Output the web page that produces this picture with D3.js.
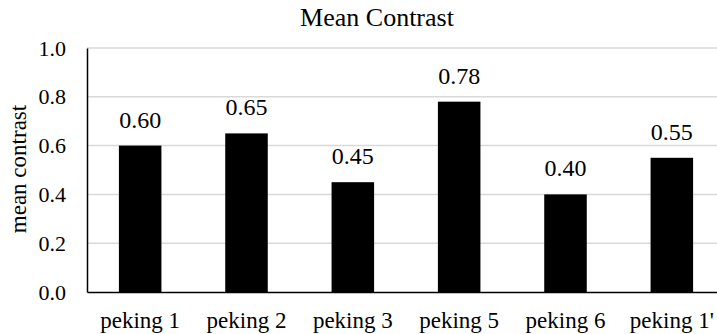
<!DOCTYPE html>
<html>
<head>
<meta charset="utf-8">
<script src="https://cdn.jsdelivr.net/npm/d3@7"></script>
<style>
  body { margin: 0; background: #fff; }
  svg { display: block; }
</style>
</head>
<body>
<svg id="chart" width="717" height="334"></svg>
<script>
const categories = ["peking 1", "peking 2", "peking 3", "peking 5", "peking 6", "peking 1'"];
const meanContrast = [0.60, 0.65, 0.45, 0.78, 0.40, 0.55];
const yTicks = [0.0, 0.2, 0.4, 0.6, 0.8, 1.0];

const serif = '"Liberation Serif", "Times New Roman", serif';
const svg = d3.select("#chart");
const plotLeft = 87, plotTop = 48, plotBottom = 292, plotRight = 725;

const x = d3.scaleBand().domain(categories).range([plotLeft, plotRight]).paddingInner(0.6).paddingOuter(0.3);
const y = d3.scaleLinear().domain([0, 1]).range([plotBottom, plotTop]);

// horizontal gridlines
svg.append("g").selectAll("line").data(yTicks.filter(d => d > 0)).join("line")
  .attr("x1", plotLeft).attr("x2", 717)
  .attr("y1", d => y(d)).attr("y2", d => y(d))
  .attr("stroke", "#d9d9d9").attr("stroke-width", 1.5);

// bars
svg.append("g").selectAll("rect").data(categories).join("rect")
  .attr("x", d => x(d))
  .attr("width", x.bandwidth())
  .attr("y", (d, i) => y(meanContrast[i]))
  .attr("height", (d, i) => plotBottom - y(meanContrast[i]))
  .attr("fill", "#000");

// value labels
svg.append("g").selectAll("text").data(categories).join("text")
  .attr("x", d => x(d) + x.bandwidth() / 2)
  .attr("y", (d, i) => y(meanContrast[i]) - 18)
  .attr("text-anchor", "middle")
  .style("font-family", serif).style("font-size", "24px").attr("fill", "#000")
  .text((d, i) => d3.format(".2f")(meanContrast[i]));

// y axis
const yAxis = d3.axisLeft(y).tickValues(yTicks).tickFormat(d3.format(".1f")).tickSize(0).tickPadding(21);
const gy = svg.append("g").attr("transform", `translate(${plotLeft},0)`).call(yAxis);
gy.select(".domain").attr("stroke", "#000").attr("stroke-width", 1.5);
gy.selectAll("text").style("font-family", serif).style("font-size", "22px").attr("fill", "#000");

// x axis
const xAxis = d3.axisBottom(x).tickSize(0).tickPadding(20);
const gx = svg.append("g").attr("transform", `translate(0,${plotBottom})`).call(xAxis);
gx.select(".domain").attr("stroke", "#000").attr("stroke-width", 1.5);
gx.selectAll("text").style("font-family", serif).style("font-size", "23px").attr("fill", "#000");

// y axis title
svg.append("text")
  .attr("transform", `translate(26,169) rotate(-90)`)
  .attr("text-anchor", "middle")
  .style("font-family", serif).style("font-size", "23px")
  .text("mean contrast");

// chart title
svg.append("text")
  .attr("x", 377).attr("y", 26)
  .attr("text-anchor", "middle")
  .style("font-family", serif).style("font-size", "26px")
  .text("Mean Contrast");
</script>
</body>
</html>
